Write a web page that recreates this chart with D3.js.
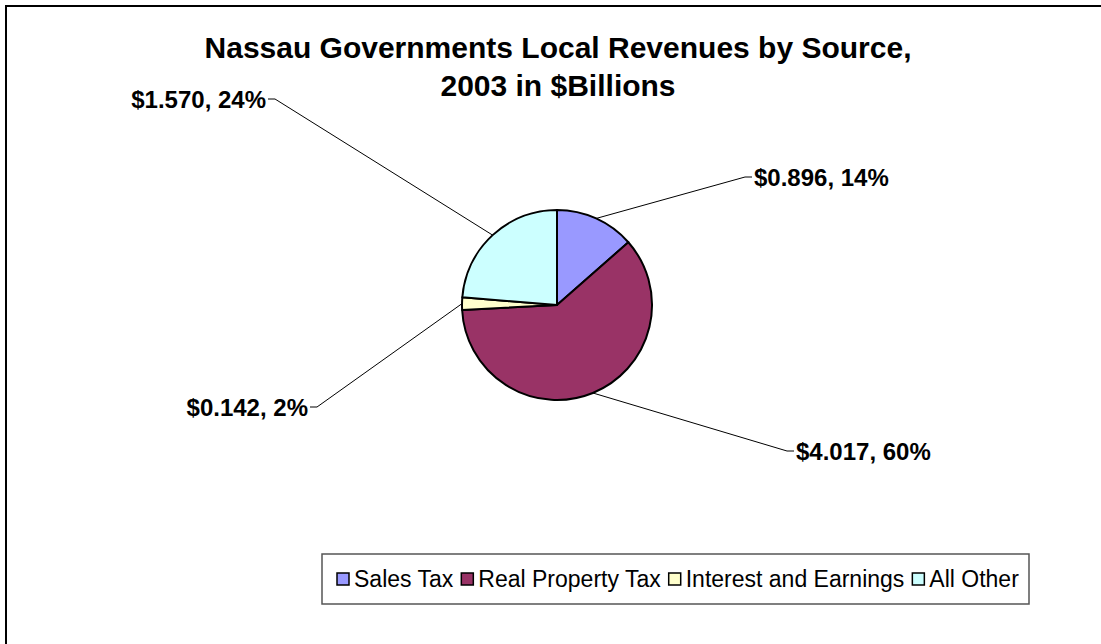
<!DOCTYPE html>
<html>
<head>
<meta charset="utf-8">
<script src="https://cdn.jsdelivr.net/npm/d3@7"></script>
<style>
  body { margin: 0; background: #fff; }
  svg text { font-family: "Liberation Sans", Arial, sans-serif; }
</style>
</head>
<body>
<div id="chart"></div>
<script>
// chart data
const categories = ["Sales Tax", "Real Property Tax", "Interest and Earnings", "All Other"];
const values = [0.896, 4.017, 0.142, 1.570];
const pctLabels = ["14%", "60%", "2%", "24%"];
const colors = ["#9999FF", "#993366", "#FFFFCC", "#CCFFFF"];
const titleLines = ["Nassau Governments Local Revenues by Source,", "2003 in $Billions"];

const width = 1101, height = 644;
const cx = 557, cy = 305, radius = 95;

// where each leader line bends, relative to the pie centre
const elbows = [[188, -128], [230, 146], [-240, 102], [-282, -206]];

let svg = d3.select("#chart")
    .append("svg")
    .attr("width", width)
    .attr("height", height);

// outer frame (runs off right/bottom edge)
svg.append("rect")
    .attr("x", 6).attr("y", 6)
    .attr("width", width + 10).attr("height", height + 10)
    .attr("fill", "white")
    .attr("stroke", "black")
    .attr("stroke-width", 2);

// title
svg.append("g").selectAll("text")
    .data(titleLines)
    .enter()
    .append("text")
    .attr("x", 558)
    .attr("y", function(d, i) { return 58 + i * 38; })
    .attr("text-anchor", "middle")
    .style("font-size", "30px")
    .style("font-weight", "bold")
    .text(function(d) { return d; });

let pie = d3.pie().sort(null).value(function(d) { return d; });
let arcs = pie(values);
let arc = d3.arc().innerRadius(0).outerRadius(radius);

let g = svg.append("g").attr("transform", `translate(${cx}, ${cy})`);

g.selectAll("path")
    .data(arcs)
    .enter()
    .append("path")
    .attr("d", arc)
    .attr("fill", function(d, i) { return colors[i]; })
    .attr("stroke", "black")
    .attr("stroke-width", 2)
    .attr("stroke-linejoin", "round");

// leader lines + labels
arcs.forEach(function(d, i) {
    let mid = (d.startAngle + d.endAngle) / 2;
    let p0 = [Math.sin(mid) * radius, -Math.cos(mid) * radius];
    let e = elbows[i];
    let dir = e[0] > 0 ? 1 : -1;
    let p2 = [e[0] + dir * 7, e[1]];

    g.append("polyline")
        .attr("points", [p0, e, p2].map(function(p) { return p.join(","); }).join(" "))
        .attr("fill", "none")
        .attr("stroke", "black")
        .attr("stroke-width", 1);

    g.append("text")
        .attr("x", p2[0] + dir * 2)
        .attr("y", e[1])
        .attr("dy", "0.36em")
        .attr("text-anchor", dir > 0 ? "start" : "end")
        .style("font-size", "24px")
        .style("font-weight", "bold")
        .text("$" + values[i].toFixed(3) + ", " + pctLabels[i]);
});

// legend
let legend = svg.append("g");
legend.append("rect")
    .attr("x", 322).attr("y", 554)
    .attr("width", 707).attr("height", 50)
    .attr("fill", "white")
    .attr("stroke", "#555")
    .attr("stroke-width", 1.5);

let lx = 337;
categories.forEach(function(name, i) {
    legend.append("rect")
        .attr("x", lx).attr("y", 573)
        .attr("width", 12).attr("height", 12)
        .attr("fill", colors[i])
        .attr("stroke", "black")
        .attr("stroke-width", 1.5);
    let t = legend.append("text")
        .attr("x", lx + 17)
        .attr("y", 587)
        .style("font-size", "23px")
        .text(name);
    lx += 17 + t.node().getComputedTextLength() + 8;
});
</script>
</body>
</html>
